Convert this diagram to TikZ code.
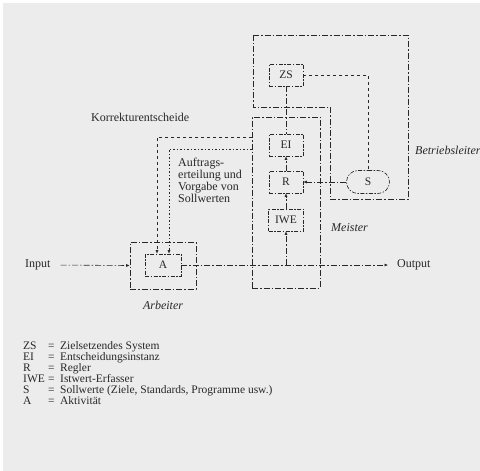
\documentclass[tikz,border=0pt]{standalone}
\usepackage{fontspec}
\setmainfont{Liberation Serif}
\usetikzlibrary{arrows.meta,shapes.misc}
\definecolor{paper}{RGB}{236,236,236}
\definecolor{ink}{RGB}{40,40,40}

\begin{document}
\begin{tikzpicture}[x=1pt,y=-1pt,
  every node/.style={text=ink},
  frame/.style={draw=ink, line width=0.6pt, dash pattern=on 6pt off 2pt on 1.5pt off 2pt},
  unit/.style={draw=ink, line width=0.6pt, dash pattern=on 4pt off 1.5pt on 1.5pt off 1.5pt,
               minimum width=34pt, minimum height=22pt, inner sep=0pt, font=\fontsize{11.5}{13}\selectfont},
  soll/.style={unit, rounded rectangle, minimum width=43pt, minimum height=23pt},
  flow/.style={draw=ink, line width=0.6pt, dash pattern=on 6pt off 2pt on 1.5pt off 2pt},
  tip/.style={-{Latex[length=3.5pt,width=3pt]}},
  lbl/.style={inner sep=0pt, font=\fontsize{12}{12}\selectfont},
  role/.style={lbl, font=\fontsize{12}{12}\selectfont\itshape}
]
\useasboundingbox (0,0) rectangle (480,471);
\fill[white] (0,0) rectangle (480,471);
\fill[paper] (3,3) rectangle (480,471);

% Betriebsleiter frame (notched outline)
\draw[frame] (253,35) -- (408,35) -- (408,199) -- (330,199) -- (330,107) -- (253,107) -- cycle;

% Meister and Arbeiter frames
\node[frame, minimum width=68pt, minimum height=171pt, inner sep=0pt] (M) at (286,202.5) {};
\node[frame, minimum width=66pt, minimum height=47pt, inner sep=0pt] (W) at (163,265.5) {};

% functional units
\node[unit] (ZS) at (286,75) {ZS};
\node[unit] (EI) at (286,145) {EI};
\node[unit] (R) at (286,182) {R};
\node[unit, minimum width=35pt] (IWE) at (286,220) {IWE};
\node[soll] (S) at (368,182) {S};
\node[unit, minimum width=36pt] (A) at (163,265) {A};

% input / output
\node[lbl, anchor=west] (input) at (25,265) {Input};
\node[lbl, anchor=west] (output) at (397,265) {Output};

% connectors
\draw[flow] (ZS.south) -- (EI.north);
\draw[flow, dashed] (ZS.east) -| (S.north);
\draw[flow, tip] (R.north) -- (EI.south);
\draw[flow, tip] (S.west) -- (R.east);
\draw[flow, tip] (IWE.north) -- (R.south);
\draw[flow, tip, shorten <=10pt] (input.east) -- (W.west);
\draw[flow, tip] (A.east) -- ([xshift=-9pt]output.west);
\coordinate (tap) at (IWE.south |- A.east);
\draw[flow, tip] (tap) -- (IWE.south);

% orders from the Meister to the activity
\coordinate (kor) at (M.west |- 0,137);
\coordinate (auf) at (M.west |- 0,149);
\draw[flow, dashed, tip] (kor) -| ([xshift=-6pt]A.north);
\draw[draw=ink, line width=0.6pt, dash pattern=on 1.5pt off 2pt, tip] (auf) -| ([xshift=6pt]A.north);

% labels
\node[lbl, anchor=west] (korl) at (91,117) {Korrekturentscheide};
\node[lbl, anchor=north west, align=left] (aufl) at (178,158)
  {Auftrags-\\erteilung und\\Vorgabe von\\Sollwerten};
\node[role] (arb) at (163,305) {Arbeiter};
\node[role, anchor=west] (mei) at (331,228) {Meister};
\node[role, anchor=west] (bet) at (415,150) {Betriebsleiter};

% legend
\node[anchor=north west, inner sep=0pt, text=ink, font=\fontsize{11.5}{10}\selectfont] (legend) at (23,341) {%
  \begin{tabular}{@{}p{25pt}@{}p{12pt}@{}l@{}}
  ZS  & = & Zielsetzendes System\\
  EI  & = & Entscheidungsinstanz\\
  R   & = & Regler\\
  IWE & = & Istwert-Erfasser\\
  S   & = & Sollwerte (Ziele, Standards, Programme usw.)\\
  A   & = & Aktivität
  \end{tabular}};
\end{tikzpicture}
\end{document}
